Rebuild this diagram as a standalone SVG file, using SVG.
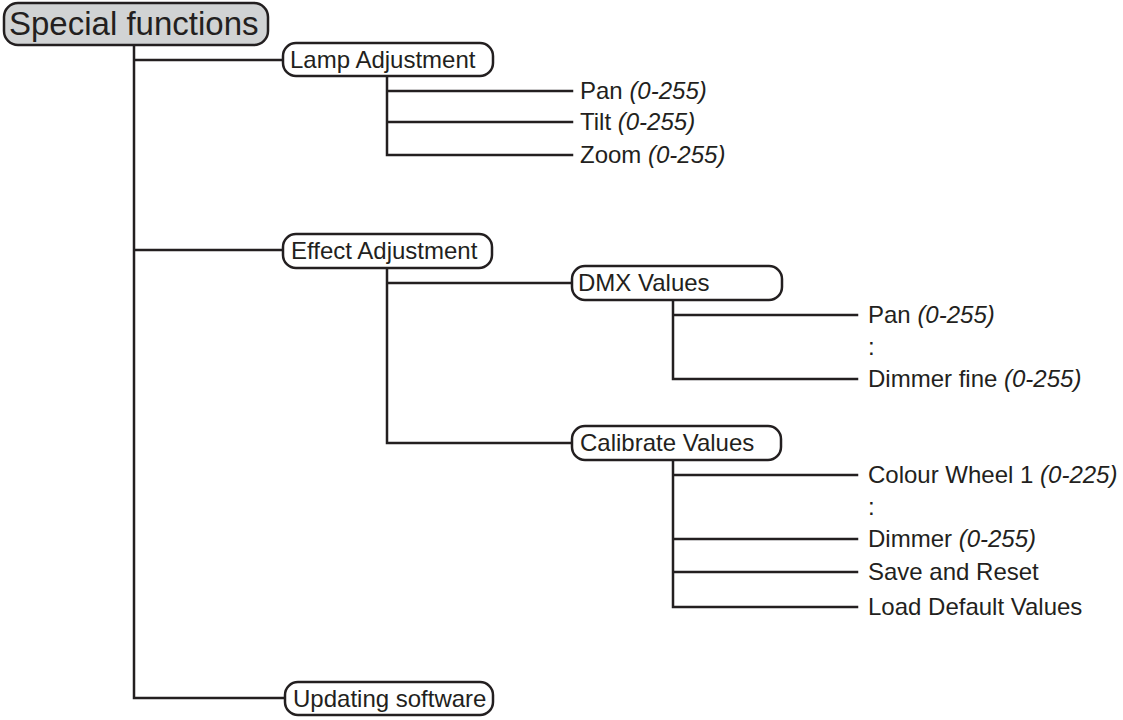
<svg xmlns="http://www.w3.org/2000/svg" width="1123" height="720" viewBox="0 0 1123 720">
<style>
.bg{fill:#ffffff}
.box{fill:#ffffff;stroke:#231f20;stroke-width:2.5}
.root{fill:#d1d3d4;stroke:#231f20;stroke-width:2.5}
.ln{stroke:#231f20;stroke-width:2.5;fill:none;stroke-linecap:square}
text{font-family:"Liberation Sans",Arial,sans-serif;fill:#231f20}
.t{font-size:24px}
.rt{font-size:33px}
.v{font-style:italic}
</style>
<rect class="bg" x="0" y="0" width="1123" height="720"/>
<g id="connectors">
<path class="ln" d="M134 45 V698 M134 60 H283 M134 250 H283 M134 698 H285"/>
<path class="ln" d="M387 76 V155 M387 91 H572 M387 122 H572 M387 155 H572"/>
<path class="ln" d="M387 268 V443 M387 283 H572 M387 443 H572"/>
<path class="ln" d="M673 300 V379 M673 315 H857 M673 379 H857"/>
<path class="ln" d="M673 460 V607 M673 475 H857 M673 539 H857 M673 572 H857 M673 607 H857"/>
</g>
<g id="special-functions">
<rect class="root" x="4" y="3" width="264" height="42" rx="14"/>
<text class="rt" x="9" y="35">Special functions</text>
</g>
<g id="lamp-adjustment">
<rect class="box" x="283" y="43" width="210" height="33" rx="13"/>
<text class="t" x="290" y="68">Lamp Adjustment</text>
</g>
<g id="lamp-pan"><text class="t" x="580" y="99">Pan <tspan class="v">(0-255)</tspan></text></g>
<g id="lamp-tilt"><text class="t" x="580" y="130">Tilt <tspan class="v">(0-255)</tspan></text></g>
<g id="lamp-zoom"><text class="t" x="580" y="163">Zoom <tspan class="v">(0-255)</tspan></text></g>
<g id="effect-adjustment">
<rect class="box" x="283" y="234" width="209" height="34" rx="13"/>
<text class="t" x="291" y="259">Effect Adjustment</text>
</g>
<g id="dmx-values">
<rect class="box" x="572" y="266" width="210" height="34" rx="13"/>
<text class="t" x="578" y="291">DMX Values</text>
</g>
<g id="dmx-pan"><text class="t" x="868" y="323">Pan <tspan class="v">(0-255)</tspan></text></g>
<g id="dmx-dots"><text class="t" x="868" y="355">:</text></g>
<g id="dmx-dimmer-fine"><text class="t" x="868" y="387">Dimmer fine <tspan class="v">(0-255)</tspan></text></g>
<g id="calibrate-values">
<rect class="box" x="572" y="426" width="209" height="34" rx="13"/>
<text class="t" x="580" y="451">Calibrate Values</text>
</g>
<g id="cal-colour-wheel"><text class="t" x="868" y="483">Colour Wheel 1 <tspan class="v">(0-225)</tspan></text></g>
<g id="cal-dots"><text class="t" x="868" y="515">:</text></g>
<g id="cal-dimmer"><text class="t" x="868" y="547">Dimmer <tspan class="v">(0-255)</tspan></text></g>
<g id="cal-save"><text class="t" x="868" y="580">Save and Reset</text></g>
<g id="cal-load"><text class="t" x="868" y="615">Load Default Values</text></g>
<g id="updating-software">
<rect class="box" x="285" y="682" width="208" height="33" rx="13"/>
<text class="t" x="293" y="707">Updating software</text>
</g>
</svg>
